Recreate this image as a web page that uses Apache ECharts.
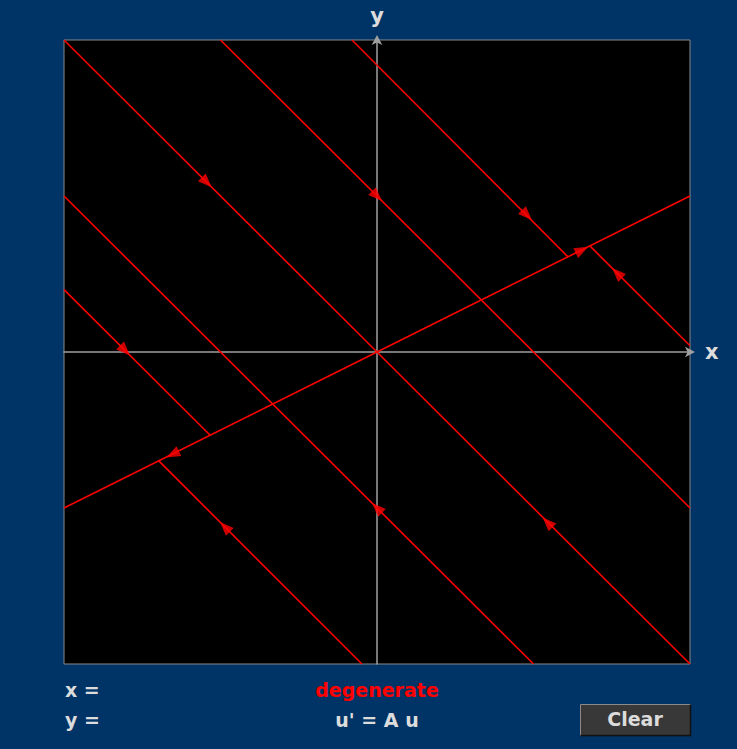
<!DOCTYPE html>
<html>
<head>
<meta charset="utf-8">
<script src="https://cdn.jsdelivr.net/npm/echarts@6/dist/echarts.min.js"></script>
<style>
html,body{margin:0;padding:0;background:#003366;}
#chart{width:737px;height:749px;}
</style>
</head>
<body>
<div id="chart"></div>
<script>
// Trajectory segments (data coordinates, x and y in [-1, 1])
const trajDiagUpper   = [[-1.0, 1.0], [0.0, 0.0]];
const trajDiagLower   = [[1.0, -1.0], [0.0, 0.0]];
const trajHalfUpper   = [[-0.5, 1.0], [1.0, -0.5]];
const trajHalfLower   = [[-1.0, 0.5], [0.5, -1.0]];
const trajTopRightA   = [[-0.08, 1.0], [0.61, 0.305]];
const trajTopRightB   = [[1.0, 0.02], [0.68, 0.34]];
const trajLeftA       = [[-1.0, 0.2], [-0.533, -0.267]];
const trajLeftB       = [[-0.048, -1.0], [-0.697, -0.349]];
const eigenLinePos    = [[0.0, 0.0], [1.0, 0.5]];
const eigenLineNeg    = [[0.0, 0.0], [-1.0, -0.5]];
const trajectories = [trajDiagUpper, trajDiagLower, trajHalfUpper, trajHalfLower,
  trajTopRightA, trajTopRightB, trajLeftA, trajLeftB, eigenLinePos, eigenLineNeg];

// Flow-direction arrows: position and direction angle (degrees, counter-clockwise from +x)
const arrowX     = [-0.544, 0.545, 0.0, 0.0, 0.479, 0.767, 0.655, -0.653, -0.805, -0.486];
const arrowY     = [0.544, -0.546, 0.5, -0.5, 0.439, 0.253, 0.327, -0.328, 0.005, -0.561];
const arrowAngle = [-45, 135, -45, 135, -45, 135, 26.57, 206.57, -45, 135];

const FONT = '"DejaVu Sans", Verdana, sans-serif';
const chart = echarts.init(document.getElementById('chart'), null, {renderer: 'svg'});

const series = trajectories.map(seg => ({
  type: 'line',
  data: seg,
  showSymbol: false,
  silent: true,
  lineStyle: {color: '#ff0000', width: 1.6},
  z: 3
}));
series.push({
  type: 'scatter',
  symbol: 'triangle',
  symbolSize: [11, 14],
  itemStyle: {color: '#ff0000'},
  z: 4,
  data: arrowX.map((x, i) => ({value: [x, arrowY[i]], symbolRotate: arrowAngle[i] - 90}))
});

const axisCommon = {
  type: 'value', min: -1, max: 1,
  axisLine: {onZero: true, lineStyle: {color: '#a0a0a0', width: 1.5},
    symbol: ['none', 'arrow'], symbolSize: [8, 10], symbolOffset: [0, 5]},
  axisTick: {show: false}, axisLabel: {show: false}, splitLine: {show: false},
  nameLocation: 'end',
  nameTextStyle: {color: '#dcdcdc', fontSize: 21, fontWeight: 'bold', fontFamily: FONT}
};

const txt = (text, x, y, fill, align) => ({
  type: 'text', silent: true,
  style: {text, x, y, fill, font: 'bold 19px ' + FONT,
    textAlign: align, textVerticalAlign: 'middle', align: align, verticalAlign: 'middle'}
});

chart.setOption({
  animation: false,
  backgroundColor: '#003366',
  grid: {left: 64, top: 40, width: 626, height: 624, show: true,
    backgroundColor: '#000000', borderColor: '#8a8a8a', borderWidth: 1},
  xAxis: Object.assign({}, axisCommon, {name: 'x', nameGap: 15}),
  yAxis: Object.assign({}, axisCommon, {name: 'y', nameGap: 14}),
  series: series,
  graphic: [
    txt('x =', 65, 690, '#dcdcdc', 'left'),
    txt('y =', 65, 720, '#dcdcdc', 'left'),
    txt('degenerate', 377, 690, '#ff0000', 'center'),
    txt("u' = A u", 377, 720, '#dcdcdc', 'center'),
    {type: 'rect', silent: true, shape: {x: 580.5, y: 704.5, width: 110, height: 31},
      style: {fill: '#383838', stroke: '#8a8a8a', lineWidth: 1}},
    {type: 'polyline', silent: true, shape: {points: [[580.5, 735.5], [690.5, 735.5], [690.5, 704.5]]},
      style: {stroke: '#111111', lineWidth: 1.5, fill: null}},
    txt('Clear', 635, 719, '#dcdcdc', 'center')
  ]
});
</script>
</body>
</html>
